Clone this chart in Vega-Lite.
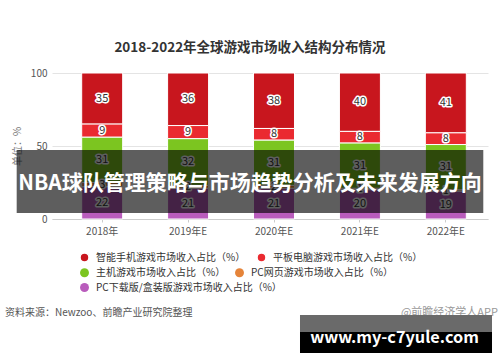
{
  "$schema": "https://vega.github.io/schema/vega-lite/v6.json",
  "width": 436,
  "height": 146,
  "autosize": {"type": "none"},
  "padding": {"left": 52, "top": 73, "right": 12, "bottom": 143},
  "background": "white",
  "config": {
    "view": {"stroke": null},
    "font": "Noto Sans CJK SC",
    "axis": {"labelFont": "Noto Sans CJK SC", "titleFont": "Noto Sans CJK SC"},
    "legend": {
      "labelFont": "Noto Sans CJK SC", "title": null, "orient": "none", "direction": "horizontal",
      "columnPadding": 8, "symbolType": "circle", "symbolSize": 80, "symbolOpacity": 1, "labelFontSize": 10,
      "labelColor": "#333", "labelOffset": 6, "labelLimit": 400, "padding": 0
    }
  },
  "resolve": {"scale": {"x": "independent", "y": "independent", "color": "independent"}},
  "layer": [
    {
      "data": {
        "values": [
          {"year": "2018年", "type": "智能手机游戏市场收入占比（%）", "v": 35},
          {"year": "2018年", "type": "平板电脑游戏市场收入占比（%）", "v": 9},
          {"year": "2018年", "type": "主机游戏市场收入占比（%）", "v": 31},
          {"year": "2018年", "type": "PC网页游戏市场收入占比（%）", "v": 3},
          {"year": "2018年", "type": "PC下载版/盒装版游戏市场收入占比（%）", "v": 22},
          {"year": "2019年E", "type": "智能手机游戏市场收入占比（%）", "v": 36},
          {"year": "2019年E", "type": "平板电脑游戏市场收入占比（%）", "v": 9},
          {"year": "2019年E", "type": "主机游戏市场收入占比（%）", "v": 32},
          {"year": "2019年E", "type": "PC网页游戏市场收入占比（%）", "v": 2},
          {"year": "2019年E", "type": "PC下载版/盒装版游戏市场收入占比（%）", "v": 21},
          {"year": "2020年E", "type": "智能手机游戏市场收入占比（%）", "v": 38},
          {"year": "2020年E", "type": "平板电脑游戏市场收入占比（%）", "v": 8},
          {"year": "2020年E", "type": "主机游戏市场收入占比（%）", "v": 31},
          {"year": "2020年E", "type": "PC网页游戏市场收入占比（%）", "v": 2},
          {"year": "2020年E", "type": "PC下载版/盒装版游戏市场收入占比（%）", "v": 21},
          {"year": "2021年E", "type": "智能手机游戏市场收入占比（%）", "v": 40},
          {"year": "2021年E", "type": "平板电脑游戏市场收入占比（%）", "v": 8},
          {"year": "2021年E", "type": "主机游戏市场收入占比（%）", "v": 31},
          {"year": "2021年E", "type": "PC网页游戏市场收入占比（%）", "v": 1},
          {"year": "2021年E", "type": "PC下载版/盒装版游戏市场收入占比（%）", "v": 20},
          {"year": "2022年E", "type": "智能手机游戏市场收入占比（%）", "v": 41},
          {"year": "2022年E", "type": "平板电脑游戏市场收入占比（%）", "v": 8},
          {"year": "2022年E", "type": "主机游戏市场收入占比（%）", "v": 31},
          {"year": "2022年E", "type": "PC网页游戏市场收入占比（%）", "v": 1},
          {"year": "2022年E", "type": "PC下载版/盒装版游戏市场收入占比（%）", "v": 19}
        ]
      },
      "transform": [
        {"calculate": "indexof(['PC下载版/盒装版游戏市场收入占比（%）','PC网页游戏市场收入占比（%）','主机游戏市场收入占比（%）','平板电脑游戏市场收入占比（%）','智能手机游戏市场收入占比（%）'], datum.type)", "as": "ord"},
        {"stack": "v", "groupby": ["year"], "sort": [{"field": "ord", "order": "ascending"}], "as": ["v0", "v1"]},
        {"calculate": "(datum.v0 + datum.v1) / 2", "as": "vm"}
      ],
      "encoding": {
        "x": {
          "field": "year", "type": "nominal", "sort": null,
          "scale": {"paddingInner": 0.523, "paddingOuter": 0.299, "align": 0.578},
          "axis": {
            "title": null, "labelAngle": 0, "labelFontSize": 10, "labelColor": "#555",
            "domainColor": "#cccccc", "tickColor": "#cccccc", "tickSize": 3, "labelPadding": 4
          }
        }
      },
      "layer": [
        {
          "mark": {"type": "bar", "stroke": "white", "strokeWidth": 1},
          "encoding": {
            "y": {
              "field": "v0", "type": "quantitative",
              "scale": {"domain": [0, 100], "nice": false},
              "axis": {
                "title": "单位：%", "values": [0, 50, 100], "ticks": false, "labelPadding": 5,
                "labelFontSize": 10, "labelColor": "#555", "domain": false,
                "gridColor": "#e4e4e4", "titleFontSize": 10, "titleColor": "#777",
                "titleFontWeight": "normal", "titlePadding": 8
              }
            },
            "y2": {"field": "v1"},
            "color": {
              "field": "type", "type": "nominal",
              "scale": {
                "domain": ["智能手机游戏市场收入占比（%）", "平板电脑游戏市场收入占比（%）", "主机游戏市场收入占比（%）", "PC网页游戏市场收入占比（%）", "PC下载版/盒装版游戏市场收入占比（%）"],
                "range": ["#c8161e", "#ea2a30", "#7cc520", "#e5843a", "#b95cbc"]
              },
              "legend": {
                "legendX": 27, "legendY": 179,
                "values": ["智能手机游戏市场收入占比（%）", "平板电脑游戏市场收入占比（%）"]
              }
            }
          }
        },
        {
          "mark": {"type": "text", "fontSize": 11, "stroke": "white", "strokeWidth": 3, "strokeJoin": "round", "fill": "white"},
          "encoding": {
            "y": {"field": "vm", "type": "quantitative", "scale": {"domain": [0, 100], "nice": false}},
            "text": {"field": "v", "type": "quantitative"}
          }
        },
        {
          "mark": {"type": "text", "fontSize": 11, "fill": "#333"},
          "encoding": {
            "y": {"field": "vm", "type": "quantitative", "scale": {"domain": [0, 100], "nice": false}},
            "text": {"field": "v", "type": "quantitative"}
          }
        }
      ]
    },
    {
      "data": {"values": [{"type": "主机游戏市场收入占比（%）"}]},
      "transform": [{"filter": "false"}],
      "mark": {"type": "point", "filled": true, "opacity": 1},
      "encoding": {
        "color": {
          "field": "type", "type": "nominal",
          "scale": {
            "domain": ["智能手机游戏市场收入占比（%）", "平板电脑游戏市场收入占比（%）", "主机游戏市场收入占比（%）", "PC网页游戏市场收入占比（%）", "PC下载版/盒装版游戏市场收入占比（%）"],
            "range": ["#c8161e", "#ea2a30", "#7cc520", "#e5843a", "#b95cbc"]
          },
          "legend": {
            "legendX": 27, "legendY": 194,
            "values": ["主机游戏市场收入占比（%）", "PC网页游戏市场收入占比（%）"]
          }
        }
      }
    },
    {
      "data": {"values": [{"type": "PC下载版/盒装版游戏市场收入占比（%）"}]},
      "transform": [{"filter": "false"}],
      "mark": {"type": "point", "filled": true, "opacity": 1},
      "encoding": {
        "color": {
          "field": "type", "type": "nominal",
          "scale": {
            "domain": ["智能手机游戏市场收入占比（%）", "平板电脑游戏市场收入占比（%）", "主机游戏市场收入占比（%）", "PC网页游戏市场收入占比（%）", "PC下载版/盒装版游戏市场收入占比（%）"],
            "range": ["#c8161e", "#ea2a30", "#7cc520", "#e5843a", "#b95cbc"]
          },
          "legend": {
            "legendX": 27, "legendY": 209,
            "values": ["PC下载版/盒装版游戏市场收入占比（%）"]
          }
        }
      }
    },
    {
      "data": {"values": [{"t": "2018-2022年全球游戏市场收入结构分布情况"}]},
      "mark": {"type": "text", "fontSize": 13.5, "fontWeight": "bold", "fill": "#333", "baseline": "middle", "align": "center"},
      "encoding": {
        "x": {"datum": 0.4541, "type": "quantitative", "scale": {"domain": [0, 1], "nice": false, "zero": false}, "axis": null},
        "y": {"datum": 117.1, "type": "quantitative", "scale": {"domain": [0, 100], "nice": false}, "axis": null},
        "text": {"field": "t"}
      }
    },
    {
      "data": {"values": [{"t": "banner"}]},
      "mark": {"type": "rect", "fill": "black", "opacity": 0.63},
      "encoding": {
        "x": {"datum": -0.081, "type": "quantitative", "scale": {"domain": [0, 1], "nice": false, "zero": false}, "axis": null},
        "x2": {"datum": 0.9892},
        "y": {"datum": 47.3, "type": "quantitative", "scale": {"domain": [0, 100], "nice": false}, "axis": null},
        "y2": {"datum": 4.1}
      }
    },
    {
      "data": {"values": [{"t": "NBA球队管理策略与市场趋势分析及未来发展方向"}]},
      "mark": {"type": "text", "fontSize": 21, "fontWeight": "bold", "fill": "white", "baseline": "middle", "align": "center"},
      "encoding": {
        "x": {"datum": 0.4541, "type": "quantitative", "scale": {"domain": [0, 1], "nice": false, "zero": false}, "axis": null},
        "y": {"datum": 24.0, "type": "quantitative", "scale": {"domain": [0, 100], "nice": false}, "axis": null},
        "text": {"field": "t"}
      }
    },
    {
      "data": {"values": [{"t": "资料来源：Newzoo、前瞻产业研究院整理"}]},
      "mark": {"type": "text", "fontSize": 10, "fill": "#555", "baseline": "middle", "align": "left"},
      "encoding": {
        "x": {"datum": -0.1078, "type": "quantitative", "scale": {"domain": [0, 1], "nice": false, "zero": false}, "axis": null},
        "y": {"datum": -64.4, "type": "quantitative", "scale": {"domain": [0, 100], "nice": false}, "axis": null},
        "text": {"field": "t"}
      }
    },
    {
      "data": {"values": [{"t": "@前瞻经济学人APP"}]},
      "mark": {"type": "text", "fontSize": 11, "fill": "#999", "baseline": "middle", "align": "right"},
      "encoding": {
        "x": {"datum": 1.0229, "type": "quantitative", "scale": {"domain": [0, 1], "nice": false, "zero": false}, "axis": null},
        "y": {"datum": -64.4, "type": "quantitative", "scale": {"domain": [0, 100], "nice": false}, "axis": null},
        "text": {"field": "t"}
      }
    },
    {
      "data": {"values": [{"t": "band"}]},
      "mark": {"type": "rect", "fill": "#6a6a6a"},
      "encoding": {
        "x": {"datum": 0.5688, "type": "quantitative", "scale": {"domain": [0, 1], "nice": false, "zero": false}, "axis": null},
        "x2": {"datum": 1.0092},
        "y": {"datum": -65.75, "type": "quantitative", "scale": {"domain": [0, 100], "nice": false}, "axis": null},
        "y2": {"datum": -77.4}
      }
    },
    {
      "data": {"values": [{"t": "box"}]},
      "mark": {"type": "rect", "fill": "black"},
      "encoding": {
        "x": {"datum": 0.5688, "type": "quantitative", "scale": {"domain": [0, 1], "nice": false, "zero": false}, "axis": null},
        "x2": {"datum": 1.0092},
        "y": {"datum": -77.4, "type": "quantitative", "scale": {"domain": [0, 100], "nice": false}, "axis": null},
        "y2": {"datum": -91.8}
      }
    },
    {
      "data": {"values": [{"t": "www.my-c7yule.com"}]},
      "mark": {"type": "text", "fontSize": 16.3, "fontWeight": "bold", "fill": "white", "baseline": "middle", "align": "center"},
      "encoding": {
        "x": {"datum": 0.7856, "type": "quantitative", "scale": {"domain": [0, 1], "nice": false, "zero": false}, "axis": null},
        "y": {"datum": -81.5, "type": "quantitative", "scale": {"domain": [0, 100], "nice": false}, "axis": null},
        "text": {"field": "t"}
      }
    }
  ]
}
